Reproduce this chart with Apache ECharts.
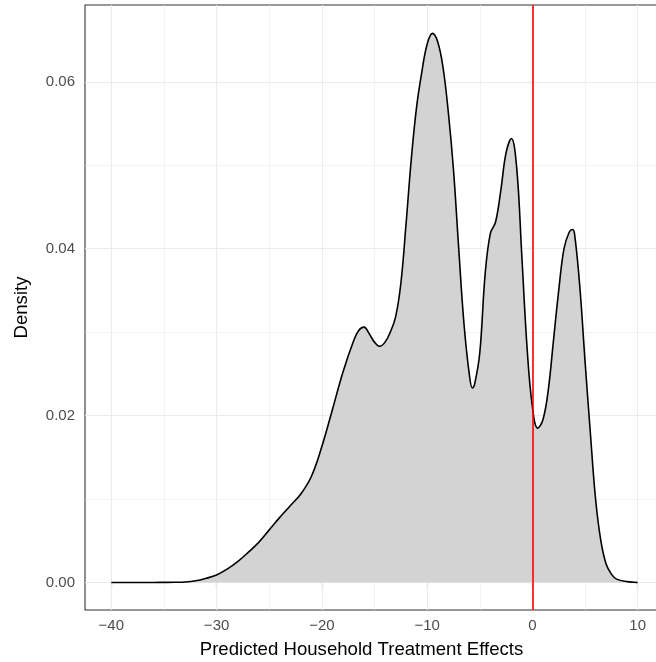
<!DOCTYPE html>
<html>
<head>
<meta charset="utf-8">
<script src="https://cdn.jsdelivr.net/npm/echarts@6/dist/echarts.min.js"></script>
<style>
html,body{margin:0;padding:0;background:#fff;}
#chart{width:656px;height:662px;}
</style>
</head>
<body>
<div id="chart"></div>
<script>
// Density estimate
const densX = [-40,-39,-38,-37,-36,-35,-34,-33,-32,-31,-30,-29,-28,-27,-26,-25,-24,-23,-22,-21,-20,-19,-18,-17,-16.5,-16,-15.5,-15,-14.5,-14,-13.5,-13,-12.5,-12,-11.5,-11,-10.5,-10,-9.5,-9,-8.5,-8,-7.5,-7,-6.5,-6,-5.7,-5.5,-5,-4.5,-4,-3.5,-3,-2.5,-2,-1.5,-1,-0.5,0,0.5,1,1.5,2,2.5,3,3.5,3.8,4,4.5,5,5.5,6,6.5,7,7.5,8,9,10];
const densY = [0,0,0,0,0,0.00001,0.00002,0.00006,0.0002,0.0005,0.0009,0.0016,0.0025,0.0036,0.0048,0.0063,0.0078,0.0092,0.0106,0.0127,0.0163,0.0207,0.0252,0.0289,0.0302,0.0306,0.0298,0.0288,0.0283,0.0288,0.0300,0.0318,0.0358,0.0430,0.0508,0.0570,0.0612,0.0645,0.0658,0.0648,0.0618,0.0565,0.0495,0.0400,0.0310,0.0250,0.0233,0.0237,0.0275,0.0368,0.0418,0.0432,0.0470,0.0515,0.0532,0.0498,0.0390,0.0280,0.0210,0.0185,0.0195,0.0230,0.0290,0.0350,0.0400,0.0420,0.0423,0.0418,0.0355,0.0265,0.0180,0.0100,0.0050,0.0022,0.0010,0.0004,0.0001,0];
const vlineX = [0];
const xTicks = [-40,-30,-20,-10,0,10];
const xMinor = [-35,-25,-15,-5,5];
const yTicks = [0,0.02,0.04,0.06];
const yMinor = [0.01,0.03,0.05];

const gridCol = '#ebebeb';
const font = 'Liberation Sans, Arial, sans-serif';
const pts = densX.map((x,i)=>[x,densY[i]]);
const fmtX = v => (v<0 ? '\u2212' + Math.abs(v) : String(v));

const chart = echarts.init(document.getElementById('chart'), null, {renderer:'canvas'});
chart.setOption({
  animation:false,
  backgroundColor:'#fff',
  grid:{left:85,top:5,right:-8,bottom:52,outerBoundsMode:'none',containLabel:false,show:true,borderColor:'#333',borderWidth:1.1,backgroundColor:'transparent'},
  xAxis:{
    type:'value',min:-42.5,max:12.5,
    name:'Predicted Household Treatment Effects',nameLocation:'middle',nameGap:30,
    nameTextStyle:{fontFamily:font,fontSize:18.6,color:'#000',padding:[0,26,0,0]},
    axisLine:{show:false},
    axisTick:{show:true,customValues:xTicks,length:5,lineStyle:{color:'#333',width:1.1}},
    axisLabel:{customValues:xTicks,formatter:fmtX,margin:8,fontFamily:font,fontSize:15,color:'#4d4d4d'},
    splitLine:{show:false}
  },
  yAxis:{
    type:'value',min:-0.0033,max:0.0692,
    name:'Density',nameLocation:'middle',nameGap:54,nameRotate:90,
    nameTextStyle:{fontFamily:font,fontSize:18.6,color:'#000'},
    axisLine:{show:false},
    axisTick:{show:true,customValues:yTicks,length:5,lineStyle:{color:'#333',width:1.1}},
    axisLabel:{customValues:yTicks,formatter:v=>v.toFixed(2),margin:10,fontFamily:font,fontSize:15,color:'#4d4d4d'},
    splitLine:{show:false}
  },
  series:[
    {
      type:'line',data:[],silent:true,z:1,
      markLine:{
        silent:true,symbol:'none',label:{show:false},animation:false,z:1,
        data:[
          ...xMinor.map(v=>({xAxis:v,lineStyle:{color:gridCol,width:0.6,type:'solid'}})),
          ...yMinor.map(v=>({yAxis:v,lineStyle:{color:gridCol,width:0.6,type:'solid'}})),
          ...xTicks.map(v=>({xAxis:v,lineStyle:{color:gridCol,width:1.1,type:'solid'}})),
          ...yTicks.map(v=>({yAxis:v,lineStyle:{color:gridCol,width:1.1,type:'solid'}}))
        ]
      }
    },
    {
      type:'line',data:pts,smooth:0.4,showSymbol:false,z:3,
      lineStyle:{color:'#000',width:1.6},
      areaStyle:{color:'#d3d3d3',opacity:1,origin:0}
    },
    {
      type:'line',data:[],z:4,silent:true,
      markLine:{
        silent:true,symbol:'none',label:{show:false},animation:false,z:6,
        data:vlineX.map(v=>({xAxis:v,lineStyle:{color:'#ff0000',width:1.6,type:'solid'}}))
      }
    }
  ]
});
</script>
</body>
</html>
